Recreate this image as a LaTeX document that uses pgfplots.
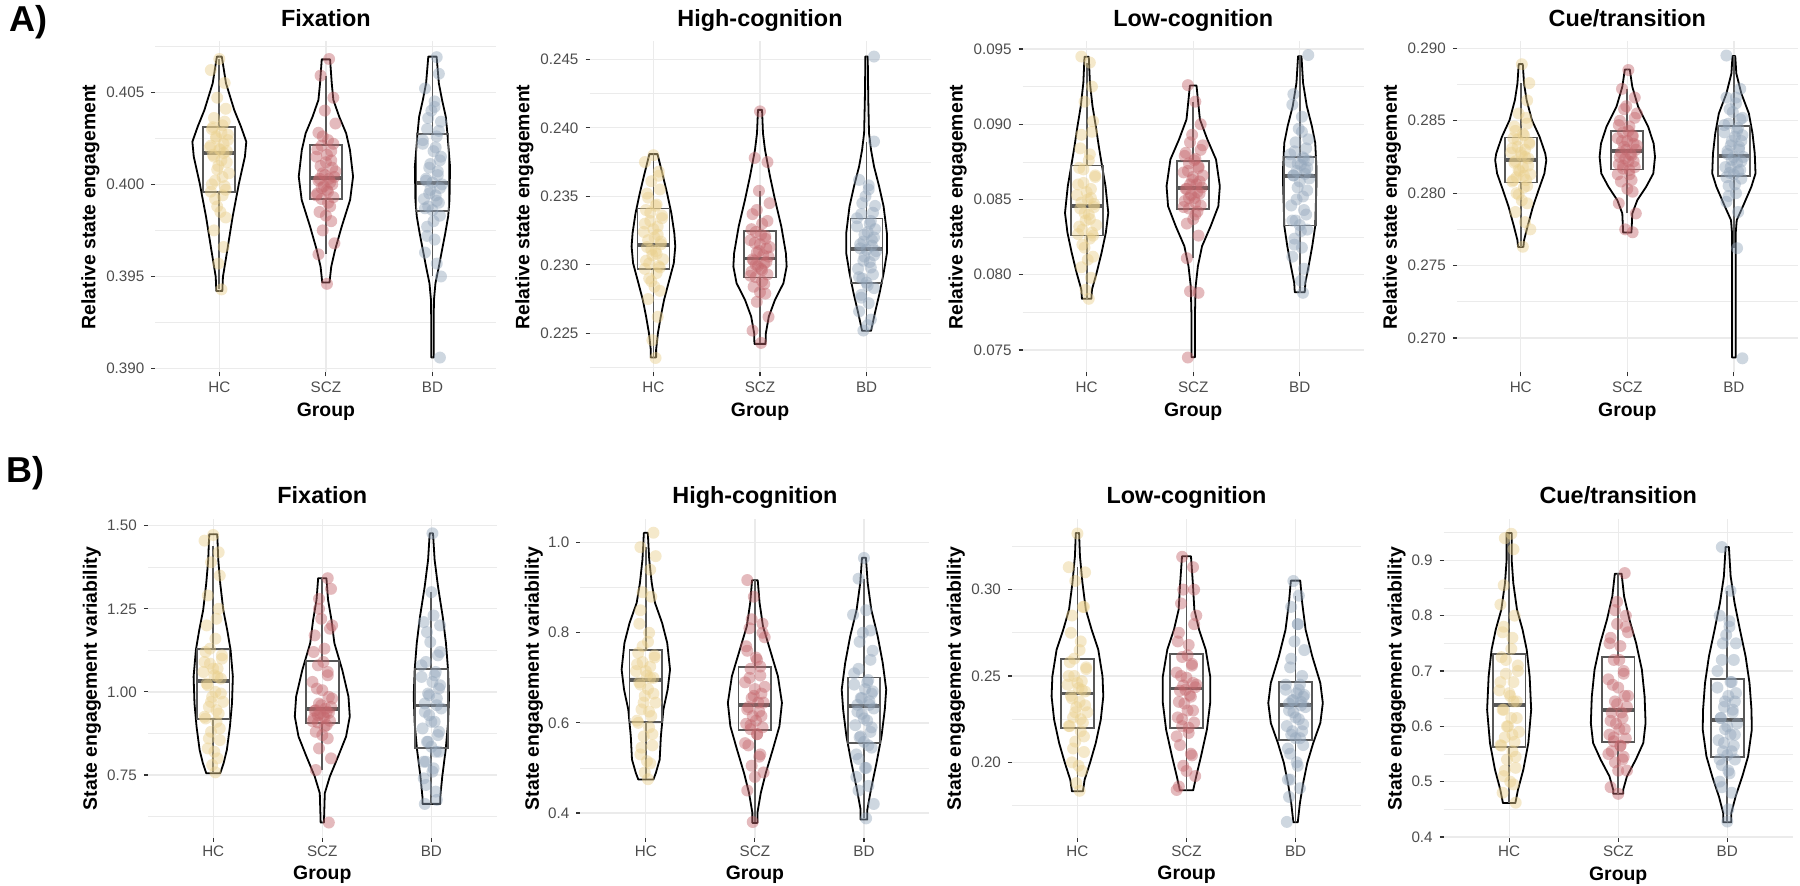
\documentclass[border=0pt]{standalone}
\usepackage{fontspec}
\setmainfont{Liberation Sans}
\usepackage{pgfplots}
\pgfplotsset{compat=1.18}

\definecolor{hcc}{HTML}{E9CF8C}
\definecolor{sczc}{HTML}{C4676D}
\definecolor{bdc}{HTML}{93A6BB}
\definecolor{gridc}{HTML}{EBEBEB}
\definecolor{boxc}{HTML}{575757}
\definecolor{tickc}{HTML}{333333}
\definecolor{labc}{HTML}{4D4D4D}

\pgfplotsset{
  panel/.style={
    scale only axis, anchor=north west,
    xmin=0.4, xmax=3.6,
    xtick={1,2,3}, xticklabels={HC,SCZ,BD},
    axis line style={draw=none},
    tick pos=left, tick align=outside,
    major tick length=2pt, minor tick length=0pt,
    tick style={tickc, line width=0.55pt},
    xmajorgrids, ymajorgrids, yminorgrids,
    major grid style={gridc, line width=0.65pt},
    minor grid style={gridc, line width=0.35pt},
    tick label style={font=\fontsize{7.6}{9}\selectfont, text=labc},
    yticklabel style={/pgf/number format/fixed, /pgf/number format/fixed zerofill},
    scaled y ticks=false,
    /pgf/number format/assume math mode=true,
    label style={font=\bfseries\fontsize{9.7}{11}\selectfont},
    title style={font=\bfseries\fontsize{11.7}{13}\selectfont,
      at={(axis description cs:0.5,1)}, anchor=base, yshift=1.5pt},
    xlabel={Group},
  },
  rowA/.style={width=170.5pt, height=165.5pt,
    ylabel={Relative state engagement},
    xticklabel style={anchor=base, yshift=-8pt},
    xlabel style={at={(axis description cs:0.5,0)}, anchor=base, yshift=-22pt},
    ylabel style={at={(axis description cs:-0.1906,0.5)}, anchor=center},
    yticklabel style={/pgf/number format/precision=3}},
  rowB/.style={width=174.5pt, height=159.5pt,
    ylabel={State engagement variability},
    xticklabel style={anchor=base, yshift=-7.15pt},
    xlabel style={at={(axis description cs:0.5,0)}, anchor=base, yshift=-21pt},
    ylabel style={anchor=center}},
  vline/.style={black, line width=0.9pt, line join=round, no markers},
  boxline/.style={boxc, line width=0.9pt, no markers, line join=miter},
}

% violin outline: rows "y w" (half width in x units), bottom to top
\newcommand\vio[2]{%
  \addplot[vline] table[row sep=\\, x expr=#1+\thisrow{w}, y=y] {#2};
  \addplot[vline] table[row sep=\\, x expr=#1-\thisrow{w}, y=y] {#2};
}
% jittered points: rows "d v"
\newcommand\pts[3]{%
  \addplot[only marks, mark=*, mark size=3pt,
    mark options={draw opacity=0, fill=#2, fill opacity=0.45}]
    table[row sep=\\, x expr=#1+\thisrow{d}, y=v] {#3};
}
% box: position, lower whisker, lower quartile, median, upper quartile, upper whisker
\newcommand\bx[6]{%
  \addplot[boxline] table[row sep=\\, x expr=#1+\thisrow{d}, y=y] {d y\\ 0 #2\\ 0 #3\\};
  \addplot[boxline] table[row sep=\\, x expr=#1+\thisrow{d}, y=y] {d y\\ 0 #5\\ 0 #6\\};
  \addplot[boxline] table[row sep=\\, x expr=#1+\thisrow{d}, y=y] {d y\\ -0.15 #3\\ 0.15 #3\\ 0.15 #5\\ -0.15 #5\\} --cycle;
  \addplot[boxline, line width=1.9pt] table[row sep=\\, x expr=#1+\thisrow{d}, y=y] {d y\\ -0.15 #4\\ 0.15 #4\\};
}

\begin{document}
\begin{tikzpicture}
\useasboundingbox (0,0) rectangle (900pt,-443pt);

\node[anchor=base east, inner sep=0, font=\bfseries\fontsize{18}{20}\selectfont] at (24pt,-16pt) {A)};
\node[anchor=base east, inner sep=0, font=\bfseries\fontsize{18}{20}\selectfont] at (22.3pt,-241.5pt) {B)};

%% ---------- A: Fixation
\begin{axis}[panel, rowA, at={(77.7pt,-20.75pt)}, title={Fixation},
  ymin=0.38979, ymax=0.40775, ytick={0.390,0.395,0.400,0.405},
  minor ytick={0.3925,0.3975,0.4025,0.4075}]
\pts{1}{hcc}{d v\\ 0.00 0.4068\\ -0.08 0.4062\\ 0.05 0.4055\\ -0.02 0.4047\\ 0.06 0.4041\\ -0.05 0.4036\\ 0.03 0.4032\\ -0.07 0.4030\\ 0.08 0.4027\\ -0.03 0.4025\\ 0.04 0.4022\\ -0.09 0.4020\\ 0.01 0.4019\\ 0.07 0.4018\\ -0.06 0.4016\\ 0.02 0.4013\\ -0.01 0.4010\\ 0.09 0.4006\\ -0.04 0.4002\\ 0.05 0.3999\\ -0.08 0.3996\\ 0.03 0.3994\\ -0.02 0.3988\\ 0.06 0.3982\\ -0.05 0.3975\\ 0.04 0.3966\\ -0.01 0.3957\\ 0.02 0.3943\\}
\pts{1}{hcc}{d v\\ 0.05 0.4034\\ -0.06 0.4031\\ 0.02 0.4028\\ -0.03 0.4026\\ 0.08 0.4024\\ -0.08 0.4021\\ 0.00 0.4019\\ 0.04 0.4017\\ -0.05 0.4015\\ 0.07 0.4012\\ -0.02 0.4008\\ 0.03 0.4004\\ -0.07 0.4000\\ 0.06 0.3997\\ -0.04 0.3992\\ 0.01 0.3985\\}
\pts{2}{sczc}{d v\\ 0.03 0.4068\\ -0.05 0.4059\\ 0.07 0.4047\\ -0.01 0.4040\\ 0.09 0.4033\\ -0.07 0.4028\\ 0.02 0.4024\\ -0.04 0.4021\\ 0.05 0.4018\\ -0.09 0.4015\\ 0.00 0.4012\\ 0.06 0.4009\\ -0.03 0.4006\\ 0.08 0.4004\\ -0.06 0.4003\\ 0.04 0.4001\\ -0.02 0.3999\\ 0.01 0.3997\\ -0.08 0.3995\\ 0.07 0.3993\\ -0.04 0.3992\\ 0.02 0.3990\\ -0.06 0.3985\\ 0.05 0.3980\\ -0.03 0.3975\\ 0.08 0.3968\\ -0.07 0.3962\\ 0.01 0.3946\\}
\pts{2}{sczc}{d v\\ -0.03 0.4026\\ 0.07 0.4022\\ -0.08 0.4019\\ 0.01 0.4016\\ 0.05 0.4013\\ -0.05 0.4010\\ 0.09 0.4007\\ -0.01 0.4005\\ 0.03 0.4003\\ -0.07 0.4002\\ 0.06 0.4000\\ -0.04 0.3998\\ 0.02 0.3996\\ -0.09 0.3994\\ 0.04 0.3988\\ 0.00 0.3983\\}
\pts{3}{bdc}{d v\\ 0.04 0.4069\\ 0.06 0.4060\\ -0.07 0.4052\\ 0.02 0.4045\\ -0.01 0.4040\\ 0.08 0.4034\\ -0.05 0.4030\\ 0.04 0.4026\\ -0.09 0.4022\\ 0.01 0.4018\\ 0.07 0.4013\\ -0.03 0.4009\\ 0.05 0.4005\\ -0.06 0.4002\\ 0.09 0.4000\\ -0.02 0.3997\\ 0.03 0.3994\\ -0.08 0.3992\\ 0.06 0.3990\\ -0.04 0.3988\\ 0.00 0.3986\\ 0.07 0.3983\\ -0.05 0.3977\\ 0.02 0.3970\\ -0.07 0.3963\\ 0.04 0.3957\\ 0.08 0.3950\\ 0.07 0.3906\\}
\pts{3}{bdc}{d v\\ 0.02 0.4042\\ -0.04 0.4036\\ 0.06 0.4029\\ -0.09 0.4024\\ 0.03 0.4020\\ 0.08 0.4015\\ -0.02 0.4011\\ 0.05 0.4007\\ -0.06 0.4003\\ 0.00 0.4001\\ 0.07 0.3998\\ -0.03 0.3995\\ 0.04 0.3991\\ -0.07 0.3987\\ 0.01 0.3980\\ -0.05 0.3972\\}
\vio{1}{y w\\ 0.39421 0\\ 0.39421 0.028\\ 0.39499 0.034\\ 0.39644 0.075\\ 0.39825 0.125\\ 0.40005 0.184\\ 0.40150 0.24\\ 0.40231 0.253\\ 0.40313 0.203\\ 0.40403 0.14\\ 0.40548 0.0625\\ 0.40693 0.023\\ 0.40693 0\\}
\vio{2}{y w\\ 0.39467 0\\ 0.39467 0.034\\ 0.39553 0.05\\ 0.39644 0.086\\ 0.39770 0.148\\ 0.39915 0.227\\ 0.40042 0.255\\ 0.40186 0.226\\ 0.40277 0.19\\ 0.40367 0.125\\ 0.40458 0.07\\ 0.40548 0.055\\ 0.40678 0.039\\ 0.40678 0\\}
\vio{3}{y w\\ 0.39061 0\\ 0.39061 0.012\\ 0.39282 0.012\\ 0.39373 0.014\\ 0.39463 0.028\\ 0.39553 0.06\\ 0.39644 0.09\\ 0.39734 0.12\\ 0.39825 0.147\\ 0.39915 0.16\\ 0.40096 0.165\\ 0.40277 0.14\\ 0.40367 0.125\\ 0.40458 0.09\\ 0.40548 0.06\\ 0.40693 0.039\\ 0.40693 0\\}
\bx{1}{0.3943}{0.39957}{0.40172}{0.40309}{0.4068}
\bx{2}{0.3962}{0.39919}{0.40033}{0.40212}{0.4059}
\bx{3}{0.3950}{0.39857}{0.40005}{0.40271}{0.4069}
\end{axis}

%% ---------- A: High-cognition
\begin{axis}[panel, rowA, at={(294.75pt,-20.75pt)}, title={High-cognition},
  ymin=0.22214, ymax=0.2463, ytick={0.225,0.230,0.235,0.240,0.245},
  minor ytick={0.2225,0.2275,0.2325,0.2375,0.2425}]
\pts{1}{hcc}{d v\\ 0.00 0.2380\\ -0.08 0.2375\\ 0.05 0.2368\\ -0.02 0.2361\\ 0.06 0.2355\\ -0.05 0.2349\\ 0.03 0.2344\\ -0.07 0.2340\\ 0.08 0.2336\\ -0.03 0.2332\\ 0.04 0.2328\\ -0.09 0.2324\\ 0.01 0.2320\\ 0.07 0.2317\\ -0.06 0.2313\\ 0.02 0.2310\\ -0.01 0.2307\\ 0.09 0.2304\\ -0.04 0.2301\\ 0.05 0.2299\\ -0.08 0.2297\\ 0.03 0.2294\\ -0.02 0.2288\\ 0.06 0.2281\\ -0.05 0.2275\\ 0.04 0.2262\\ -0.01 0.2245\\ 0.02 0.2232\\}
\pts{1}{hcc}{d v\\ 0.05 0.2365\\ -0.06 0.2352\\ 0.02 0.2343\\ -0.03 0.2338\\ 0.08 0.2334\\ -0.08 0.2330\\ 0.00 0.2326\\ 0.04 0.2322\\ -0.05 0.2318\\ 0.07 0.2315\\ -0.02 0.2311\\ 0.03 0.2308\\ -0.07 0.2303\\ 0.06 0.2298\\ -0.04 0.2290\\ 0.01 0.2284\\}
\pts{2}{sczc}{d v\\ 0.00 0.2412\\ -0.05 0.2378\\ 0.07 0.2375\\ -0.01 0.2354\\ 0.09 0.2345\\ -0.07 0.2337\\ 0.02 0.2330\\ -0.04 0.2324\\ 0.05 0.2321\\ -0.09 0.2318\\ 0.00 0.2315\\ 0.06 0.2312\\ -0.03 0.2309\\ 0.08 0.2306\\ -0.06 0.2303\\ 0.04 0.2301\\ -0.02 0.2299\\ 0.01 0.2297\\ -0.08 0.2295\\ 0.07 0.2293\\ -0.04 0.2291\\ 0.02 0.2288\\ -0.06 0.2284\\ 0.05 0.2279\\ -0.03 0.2273\\ 0.08 0.2262\\ -0.07 0.2252\\ 0.01 0.2243\\}
\pts{2}{sczc}{d v\\ -0.03 0.2340\\ 0.07 0.2332\\ -0.08 0.2326\\ 0.01 0.2322\\ 0.05 0.2319\\ -0.05 0.2316\\ 0.09 0.2313\\ -0.01 0.2310\\ 0.03 0.2307\\ -0.07 0.2304\\ 0.06 0.2302\\ -0.04 0.2300\\ 0.02 0.2296\\ -0.09 0.2292\\ 0.04 0.2286\\ 0.00 0.2280\\}
\pts{3}{bdc}{d v\\ 0.07 0.2452\\ 0.07 0.2390\\ -0.07 0.2362\\ 0.02 0.2358\\ -0.01 0.2350\\ 0.08 0.2343\\ -0.05 0.2337\\ 0.04 0.2332\\ -0.09 0.2328\\ 0.01 0.2324\\ 0.07 0.2320\\ -0.03 0.2317\\ 0.05 0.2314\\ -0.06 0.2312\\ 0.09 0.2310\\ -0.02 0.2306\\ 0.03 0.2302\\ -0.08 0.2297\\ 0.06 0.2293\\ -0.04 0.2290\\ 0.00 0.2287\\ 0.07 0.2283\\ -0.05 0.2278\\ 0.02 0.2272\\ -0.07 0.2266\\ 0.04 0.2260\\ 0.01 0.2256\\ -0.03 0.2252\\}
\pts{3}{bdc}{d v\\ 0.02 0.2355\\ -0.04 0.2345\\ 0.06 0.2338\\ -0.09 0.2334\\ 0.03 0.2330\\ 0.08 0.2326\\ -0.02 0.2322\\ 0.05 0.2318\\ -0.06 0.2315\\ 0.00 0.2311\\ 0.07 0.2307\\ -0.03 0.2303\\ 0.04 0.2298\\ -0.07 0.2291\\ 0.01 0.2285\\ -0.05 0.2276\\}
\vio{1}{y w\\ 0.22324 0\\ 0.22324 0.025\\ 0.22380 0.025\\ 0.22501 0.042\\ 0.22623 0.069\\ 0.22745 0.1\\ 0.22866 0.141\\ 0.23012 0.191\\ 0.23134 0.205\\ 0.23231 0.196\\ 0.23377 0.168\\ 0.23523 0.128\\ 0.23669 0.083\\ 0.23808 0.038\\ 0.23808 0\\}
\vio{2}{y w\\ 0.22423 0\\ 0.22423 0.052\\ 0.22501 0.055\\ 0.22623 0.083\\ 0.22745 0.141\\ 0.22866 0.22\\ 0.22988 0.25\\ 0.23085 0.243\\ 0.23280 0.2\\ 0.23474 0.141\\ 0.23645 0.094\\ 0.23839 0.047\\ 0.23961 0.028\\ 0.24131 0.019\\ 0.24131 0\\}
\vio{3}{y w\\ 0.22518 0\\ 0.22518 0.042\\ 0.22647 0.078\\ 0.22793 0.122\\ 0.22939 0.16\\ 0.23085 0.191\\ 0.23231 0.191\\ 0.23426 0.16\\ 0.23572 0.118\\ 0.23718 0.07\\ 0.23839 0.042\\ 0.23961 0.023\\ 0.24204 0.016\\ 0.24521 0.011\\ 0.24521 0\\}
\bx{1}{0.2232}{0.22968}{0.23146}{0.23411}{0.2380}
\bx{2}{0.2243}{0.22908}{0.23046}{0.23246}{0.2354}
\bx{3}{0.2252}{0.22866}{0.23114}{0.23338}{0.2390}
\end{axis}

%% ---------- A: Low-cognition
\begin{axis}[panel, rowA, at={(511.35pt,-20.75pt)}, title={Low-cognition},
  ymin=0.073505, ymax=0.0955, ytick={0.075,0.080,0.085,0.090,0.095},
  minor ytick={0.0775,0.0825,0.0875,0.0925}]
\pts{1}{hcc}{d v\\ -0.05 0.0945\\ 0.03 0.0941\\ 0.05 0.0925\\ -0.02 0.0915\\ 0.06 0.0902\\ -0.05 0.0893\\ 0.03 0.0880\\ -0.07 0.0871\\ 0.08 0.0866\\ -0.03 0.0861\\ 0.04 0.0857\\ -0.09 0.0853\\ 0.01 0.0850\\ 0.07 0.0847\\ -0.06 0.0844\\ 0.02 0.0840\\ -0.01 0.0836\\ 0.09 0.0833\\ -0.04 0.0830\\ 0.05 0.0828\\ -0.08 0.0827\\ 0.03 0.0824\\ -0.02 0.0818\\ 0.06 0.0812\\ -0.05 0.0805\\ 0.04 0.0798\\ -0.01 0.0790\\ 0.02 0.0784\\}
\pts{1}{hcc}{d v\\ 0.05 0.0895\\ -0.06 0.0884\\ 0.02 0.0876\\ -0.03 0.0870\\ 0.08 0.0865\\ -0.08 0.0860\\ 0.00 0.0855\\ 0.04 0.0851\\ -0.05 0.0848\\ 0.07 0.0845\\ -0.02 0.0841\\ 0.03 0.0837\\ -0.07 0.0832\\ 0.06 0.0826\\ -0.04 0.0820\\ 0.01 0.0810\\}
\pts{2}{sczc}{d v\\ -0.05 0.0926\\ 0.02 0.0915\\ 0.07 0.0900\\ -0.01 0.0893\\ 0.09 0.0886\\ -0.07 0.0881\\ 0.02 0.0877\\ -0.04 0.0874\\ 0.05 0.0871\\ -0.09 0.0868\\ 0.00 0.0865\\ 0.06 0.0862\\ -0.03 0.0860\\ 0.08 0.0858\\ -0.06 0.0857\\ 0.04 0.0855\\ -0.02 0.0853\\ 0.01 0.0851\\ -0.08 0.0849\\ 0.07 0.0846\\ -0.04 0.0844\\ 0.02 0.0840\\ -0.06 0.0834\\ 0.05 0.0826\\ -0.06 0.0811\\ -0.03 0.0789\\ 0.05 0.0788\\ -0.05 0.0745\\}
\pts{2}{sczc}{d v\\ -0.03 0.0888\\ 0.07 0.0883\\ -0.08 0.0879\\ 0.01 0.0876\\ 0.05 0.0872\\ -0.05 0.0869\\ 0.09 0.0866\\ -0.01 0.0863\\ 0.03 0.0860\\ -0.07 0.0857\\ 0.06 0.0854\\ -0.04 0.0851\\ 0.02 0.0848\\ -0.09 0.0845\\ 0.04 0.0842\\ 0.00 0.0837\\}
\pts{3}{bdc}{d v\\ 0.08 0.0946\\ -0.06 0.0920\\ -0.07 0.0913\\ 0.02 0.0905\\ -0.01 0.0897\\ 0.08 0.0890\\ -0.05 0.0882\\ 0.04 0.0877\\ -0.09 0.0875\\ 0.01 0.0873\\ 0.07 0.0871\\ -0.03 0.0869\\ 0.05 0.0867\\ -0.06 0.0866\\ 0.09 0.0864\\ -0.02 0.0858\\ 0.03 0.0852\\ -0.08 0.0846\\ 0.06 0.0840\\ -0.04 0.0836\\ 0.00 0.0833\\ 0.07 0.0830\\ -0.05 0.0824\\ 0.02 0.0818\\ -0.07 0.0812\\ 0.04 0.0804\\ 0.01 0.0796\\ 0.03 0.0788\\}
\pts{3}{bdc}{d v\\ 0.02 0.0895\\ -0.04 0.0888\\ 0.06 0.0884\\ -0.09 0.0880\\ 0.03 0.0878\\ 0.08 0.0876\\ -0.02 0.0874\\ 0.05 0.0870\\ -0.06 0.0866\\ 0.00 0.0862\\ 0.07 0.0856\\ -0.03 0.0850\\ 0.04 0.0843\\ -0.07 0.0836\\ 0.01 0.0829\\ -0.05 0.0820\\}
\vio{1}{y w\\ 0.07840 0\\ 0.07840 0.044\\ 0.07902 0.05\\ 0.08013 0.094\\ 0.08146 0.14\\ 0.08279 0.18\\ 0.08411 0.203\\ 0.08589 0.177\\ 0.08721 0.145\\ 0.08854 0.114\\ 0.08987 0.086\\ 0.09120 0.055\\ 0.09275 0.031\\ 0.09448 0.02\\ 0.09448 0\\}
\vio{2}{y w\\ 0.07452 0\\ 0.07452 0.016\\ 0.07725 0.016\\ 0.07924 0.023\\ 0.08057 0.044\\ 0.08190 0.083\\ 0.08323 0.164\\ 0.08456 0.236\\ 0.08589 0.25\\ 0.08766 0.214\\ 0.08899 0.133\\ 0.09032 0.063\\ 0.09164 0.044\\ 0.09257 0.031\\ 0.09257 0\\}
\vio{3}{y w\\ 0.07884 0\\ 0.07884 0.047\\ 0.07946 0.052\\ 0.08057 0.083\\ 0.08190 0.117\\ 0.08323 0.145\\ 0.08589 0.156\\ 0.08721 0.156\\ 0.08877 0.145\\ 0.08987 0.114\\ 0.09120 0.066\\ 0.09275 0.031\\ 0.09452 0.016\\ 0.09452 0\\}
\bx{1}{0.0784}{0.08261}{0.08456}{0.08726}{0.0941}
\bx{2}{0.0811}{0.08438}{0.08578}{0.08757}{0.0915}
\bx{3}{0.0788}{0.08327}{0.08655}{0.08783}{0.0946}
\end{axis}

%% ---------- A: Cue/transition
\begin{axis}[panel, rowA, at={(728.4pt,-20.75pt)}, title={Cue/transition},
  ymin=0.26762, ymax=0.29047, ytick={0.270,0.275,0.280,0.285,0.290},
  minor ytick={0.2725,0.2775,0.2825,0.2875}]
\pts{1}{hcc}{d v\\ 0.01 0.2889\\ 0.08 0.2876\\ 0.06 0.2864\\ -0.02 0.2855\\ 0.06 0.2848\\ -0.05 0.2843\\ 0.03 0.2840\\ -0.07 0.2838\\ 0.08 0.2835\\ -0.03 0.2832\\ 0.04 0.2830\\ -0.09 0.2828\\ 0.01 0.2826\\ 0.07 0.2824\\ -0.06 0.2821\\ 0.02 0.2818\\ -0.01 0.2815\\ 0.09 0.2813\\ -0.04 0.2811\\ 0.05 0.2809\\ -0.08 0.2808\\ 0.03 0.2804\\ -0.02 0.2799\\ 0.06 0.2793\\ -0.05 0.2787\\ 0.04 0.2780\\ 0.09 0.2775\\ 0.02 0.2763\\}
\pts{1}{hcc}{d v\\ 0.05 0.2852\\ -0.06 0.2846\\ 0.02 0.2841\\ -0.03 0.2837\\ 0.08 0.2834\\ -0.08 0.2831\\ 0.00 0.2828\\ 0.04 0.2825\\ -0.05 0.2822\\ 0.07 0.2819\\ -0.02 0.2816\\ 0.03 0.2812\\ -0.07 0.2809\\ 0.06 0.2805\\ -0.04 0.2800\\ 0.01 0.2795\\}
\pts{2}{sczc}{d v\\ 0.01 0.2885\\ -0.05 0.2872\\ 0.07 0.2866\\ -0.01 0.2860\\ 0.09 0.2855\\ -0.07 0.2850\\ 0.02 0.2846\\ -0.04 0.2842\\ 0.05 0.2840\\ -0.09 0.2838\\ 0.00 0.2836\\ 0.06 0.2834\\ -0.03 0.2832\\ 0.08 0.2830\\ -0.06 0.2828\\ 0.04 0.2826\\ -0.02 0.2824\\ 0.01 0.2822\\ -0.08 0.2820\\ 0.07 0.2818\\ -0.04 0.2817\\ 0.02 0.2813\\ -0.06 0.2808\\ 0.05 0.2801\\ -0.08 0.2793\\ 0.08 0.2786\\ -0.02 0.2775\\ 0.05 0.2773\\}
\pts{2}{sczc}{d v\\ -0.03 0.2858\\ 0.07 0.2852\\ -0.08 0.2847\\ 0.01 0.2843\\ 0.05 0.2839\\ -0.05 0.2836\\ 0.09 0.2833\\ -0.01 0.2830\\ 0.03 0.2827\\ -0.07 0.2825\\ 0.06 0.2822\\ -0.04 0.2819\\ 0.02 0.2816\\ -0.09 0.2813\\ 0.04 0.2809\\ 0.00 0.2803\\}
\pts{3}{bdc}{d v\\ -0.07 0.2895\\ 0.06 0.2872\\ -0.07 0.2866\\ 0.02 0.2862\\ -0.01 0.2856\\ 0.08 0.2852\\ -0.05 0.2848\\ 0.04 0.2845\\ -0.09 0.2842\\ 0.01 0.2839\\ 0.07 0.2836\\ -0.03 0.2833\\ 0.05 0.2830\\ -0.06 0.2827\\ 0.09 0.2825\\ -0.02 0.2823\\ 0.03 0.2821\\ -0.08 0.2818\\ 0.06 0.2816\\ -0.04 0.2814\\ 0.00 0.2813\\ 0.07 0.2810\\ -0.05 0.2805\\ 0.02 0.2800\\ -0.07 0.2794\\ 0.04 0.2787\\ 0.03 0.2762\\ 0.08 0.2686\\}
\pts{3}{bdc}{d v\\ 0.02 0.2866\\ -0.04 0.2858\\ 0.06 0.2851\\ -0.09 0.2847\\ 0.03 0.2843\\ 0.08 0.2840\\ -0.02 0.2836\\ 0.05 0.2832\\ -0.06 0.2829\\ 0.00 0.2825\\ 0.07 0.2822\\ -0.03 0.2818\\ 0.04 0.2815\\ -0.07 0.2811\\ 0.01 0.2806\\ -0.05 0.2798\\}
\vio{1}{y w\\ 0.27629 0\\ 0.27629 0.025\\ 0.27675 0.031\\ 0.27768 0.063\\ 0.27906 0.114\\ 0.28021 0.167\\ 0.28136 0.222\\ 0.28228 0.24\\ 0.28274 0.23\\ 0.28389 0.177\\ 0.28504 0.105\\ 0.28642 0.055\\ 0.28757 0.031\\ 0.28891 0.019\\ 0.28891 0\\}
\vio{2}{y w\\ 0.27728 0\\ 0.27728 0.039\\ 0.27860 0.047\\ 0.27952 0.094\\ 0.28044 0.177\\ 0.28136 0.244\\ 0.28251 0.26\\ 0.28343 0.247\\ 0.28458 0.196\\ 0.28596 0.102\\ 0.28734 0.047\\ 0.28854 0.023\\ 0.28854 0\\}
\vio{3}{y w\\ 0.26865 0\\ 0.26865 0.017\\ 0.27722 0.017\\ 0.27814 0.027\\ 0.27906 0.083\\ 0.28044 0.164\\ 0.28136 0.203\\ 0.28274 0.196\\ 0.28412 0.175\\ 0.28550 0.141\\ 0.28688 0.07\\ 0.28826 0.023\\ 0.28946 0.013\\ 0.28946 0\\}
\bx{1}{0.2763}{0.28074}{0.28228}{0.28384}{0.2876}
\bx{2}{0.2786}{0.28163}{0.28292}{0.28428}{0.2872}
\bx{3}{0.2762}{0.28120}{0.28255}{0.28463}{0.2895}
\end{axis}

%% ---------- B: Fixation
\begin{axis}[panel, rowB, at={(73.9pt,-259.5pt)}, title={Fixation},
  ymin=0.5605, ymax=1.5201, ytick={0.75,1.00,1.25,1.50},
  minor ytick={0.625,0.875,1.125,1.375},
  yticklabel style={/pgf/number format/precision=2},
  ylabel style={at={(axis description cs:-0.1605,0.5)}}]
\pts{1}{hcc}{d v\\ 0.00 1.472\\ -0.08 1.455\\ 0.05 1.420\\ -0.02 1.390\\ 0.06 1.350\\ -0.05 1.290\\ 0.03 1.220\\ -0.07 1.120\\ 0.08 1.100\\ -0.03 1.085\\ 0.04 1.070\\ -0.09 1.060\\ 0.01 1.050\\ 0.07 1.040\\ -0.06 1.025\\ 0.02 1.000\\ -0.01 0.985\\ 0.09 0.970\\ -0.04 0.955\\ 0.05 0.935\\ -0.08 0.925\\ 0.03 0.910\\ -0.02 0.880\\ 0.06 0.855\\ -0.05 0.830\\ 0.04 0.800\\ -0.01 0.780\\ 0.02 0.758\\}
\pts{1}{hcc}{d v\\ 0.05 1.250\\ -0.06 1.200\\ 0.02 1.160\\ -0.03 1.130\\ 0.08 1.110\\ -0.08 1.090\\ 0.00 1.070\\ 0.04 1.045\\ -0.05 1.020\\ 0.07 0.995\\ -0.02 0.970\\ 0.03 0.945\\ -0.07 0.920\\ 0.06 0.890\\ -0.04 0.860\\ 0.01 0.820\\}
\pts{2}{sczc}{d v\\ 0.05 1.342\\ 0.08 1.310\\ -0.03 1.280\\ -0.01 1.220\\ 0.09 1.200\\ -0.07 1.170\\ 0.02 1.130\\ -0.04 1.080\\ 0.05 1.060\\ -0.09 1.030\\ 0.00 1.005\\ 0.06 0.985\\ -0.03 0.965\\ 0.08 0.955\\ -0.06 0.945\\ 0.04 0.940\\ -0.02 0.935\\ 0.01 0.928\\ -0.08 0.920\\ 0.07 0.913\\ -0.04 0.908\\ 0.02 0.895\\ -0.06 0.880\\ 0.05 0.860\\ -0.03 0.830\\ 0.08 0.800\\ -0.06 0.765\\ 0.06 0.607\\}
\pts{2}{sczc}{d v\\ -0.03 1.250\\ 0.07 1.190\\ -0.08 1.120\\ 0.01 1.090\\ 0.05 1.050\\ -0.05 1.010\\ 0.09 0.980\\ -0.01 0.960\\ 0.03 0.950\\ -0.07 0.943\\ 0.06 0.937\\ -0.04 0.930\\ 0.02 0.922\\ -0.09 0.912\\ 0.04 0.900\\ 0.00 0.870\\}
\pts{3}{bdc}{d v\\ 0.01 1.477\\ 0.00 1.300\\ -0.07 1.210\\ 0.08 1.200\\ -0.01 1.150\\ 0.08 1.120\\ -0.05 1.090\\ 0.04 1.060\\ -0.09 1.045\\ 0.01 1.030\\ 0.07 1.010\\ -0.03 0.995\\ 0.05 0.980\\ -0.06 0.965\\ 0.09 0.950\\ -0.02 0.930\\ 0.03 0.910\\ -0.08 0.890\\ 0.06 0.870\\ -0.04 0.850\\ 0.00 0.835\\ 0.07 0.820\\ -0.05 0.790\\ 0.02 0.770\\ -0.07 0.740\\ 0.04 0.700\\ 0.05 0.675\\ -0.06 0.663\\}
\pts{3}{bdc}{d v\\ 0.02 1.230\\ -0.04 1.180\\ 0.06 1.110\\ -0.09 1.080\\ 0.03 1.050\\ 0.08 1.020\\ -0.02 0.990\\ 0.05 0.960\\ -0.06 0.940\\ 0.00 0.910\\ 0.07 0.880\\ -0.03 0.850\\ 0.04 0.820\\ -0.07 0.790\\ 0.01 0.760\\ -0.05 0.720\\}
\vio{1}{y w\\ 0.7553 0\\ 0.7553 0.064\\ 0.7854 0.095\\ 0.8255 0.125\\ 0.8957 0.153\\ 0.9659 0.172\\ 1.0461 0.18\\ 1.1263 0.159\\ 1.1865 0.128\\ 1.2467 0.092\\ 1.3269 0.064\\ 1.3971 0.046\\ 1.4743 0.037\\ 1.4743 0\\}
\vio{2}{y w\\ 0.6070 0\\ 0.6070 0.015\\ 0.6952 0.023\\ 0.7453 0.069\\ 0.8055 0.145\\ 0.8656 0.218\\ 0.9258 0.252\\ 0.9860 0.24\\ 1.0662 0.183\\ 1.1464 0.111\\ 1.2166 0.084\\ 1.2767 0.053\\ 1.3419 0.038\\ 1.3419 0\\}
\vio{3}{y w\\ 0.6631 0\\ 0.6631 0.082\\ 0.6852 0.082\\ 0.7453 0.1\\ 0.8255 0.131\\ 0.9057 0.153\\ 0.9860 0.162\\ 1.0662 0.153\\ 1.1464 0.134\\ 1.2266 0.104\\ 1.3169 0.061\\ 1.3971 0.03\\ 1.4773 0.015\\ 1.4773 0\\}
\bx{1}{0.758}{0.918}{1.032}{1.128}{1.440}
\bx{2}{0.765}{0.906}{0.949}{1.094}{1.342}
\bx{3}{0.663}{0.831}{0.959}{1.068}{1.300}
\end{axis}

%% ---------- B: High-cognition
\begin{axis}[panel, rowB, at={(290.2pt,-259.5pt)}, title={High-cognition},
  ymin=0.3445, ymax=1.0525, ytick={0.4,0.6,0.8,1.0},
  minor ytick={0.5,0.7,0.9},
  yticklabel style={/pgf/number format/precision=1},
  ylabel style={at={(axis description cs:-0.133,0.5)}}]
\pts{1}{hcc}{d v\\ 0.07 1.022\\ -0.05 0.990\\ 0.09 0.970\\ 0.04 0.940\\ -0.03 0.890\\ -0.05 0.850\\ 0.03 0.800\\ -0.07 0.755\\ 0.08 0.745\\ -0.03 0.735\\ 0.04 0.725\\ -0.09 0.715\\ 0.01 0.705\\ 0.07 0.700\\ -0.06 0.690\\ 0.02 0.675\\ -0.01 0.660\\ 0.09 0.645\\ -0.04 0.630\\ 0.05 0.615\\ -0.08 0.605\\ 0.03 0.590\\ -0.02 0.570\\ 0.06 0.550\\ -0.05 0.530\\ 0.04 0.510\\ -0.01 0.490\\ 0.02 0.475\\}
\pts{1}{hcc}{d v\\ 0.05 0.880\\ -0.06 0.820\\ 0.02 0.780\\ -0.03 0.770\\ 0.08 0.750\\ -0.08 0.730\\ 0.00 0.715\\ 0.04 0.700\\ -0.05 0.685\\ 0.07 0.665\\ -0.02 0.645\\ 0.03 0.625\\ -0.07 0.600\\ 0.06 0.575\\ -0.04 0.545\\ 0.01 0.515\\}
\pts{2}{sczc}{d v\\ -0.07 0.917\\ -0.01 0.880\\ 0.07 0.820\\ -0.05 0.810\\ 0.09 0.790\\ -0.07 0.760\\ 0.02 0.740\\ -0.04 0.720\\ 0.05 0.705\\ -0.09 0.690\\ 0.00 0.675\\ 0.06 0.665\\ -0.03 0.655\\ 0.08 0.645\\ -0.06 0.635\\ 0.04 0.625\\ -0.02 0.615\\ 0.01 0.605\\ -0.08 0.598\\ 0.07 0.590\\ -0.04 0.586\\ 0.02 0.575\\ -0.06 0.550\\ 0.05 0.530\\ -0.03 0.505\\ 0.08 0.490\\ -0.07 0.450\\ -0.02 0.380\\}
\pts{2}{sczc}{d v\\ -0.03 0.830\\ 0.07 0.800\\ -0.08 0.770\\ 0.01 0.745\\ 0.05 0.725\\ -0.05 0.700\\ 0.09 0.680\\ -0.01 0.660\\ 0.03 0.645\\ -0.07 0.630\\ 0.06 0.615\\ -0.04 0.595\\ 0.02 0.575\\ -0.09 0.555\\ 0.04 0.525\\ 0.00 0.480\\}
\pts{3}{bdc}{d v\\ 0.00 0.966\\ -0.05 0.920\\ -0.10 0.840\\ 0.06 0.805\\ -0.01 0.800\\ 0.08 0.760\\ -0.05 0.720\\ 0.04 0.695\\ -0.09 0.685\\ 0.01 0.675\\ 0.07 0.665\\ -0.03 0.655\\ 0.05 0.648\\ -0.06 0.640\\ 0.09 0.632\\ -0.02 0.620\\ 0.03 0.605\\ -0.08 0.595\\ 0.06 0.580\\ -0.04 0.568\\ 0.00 0.558\\ 0.07 0.545\\ -0.05 0.520\\ 0.02 0.500\\ -0.07 0.480\\ 0.04 0.460\\ 0.09 0.420\\ 0.02 0.388\\}
\pts{3}{bdc}{d v\\ 0.02 0.850\\ -0.04 0.780\\ 0.06 0.740\\ -0.09 0.710\\ 0.03 0.690\\ 0.08 0.670\\ -0.02 0.655\\ 0.05 0.640\\ -0.06 0.625\\ 0.00 0.610\\ 0.07 0.590\\ -0.03 0.570\\ 0.04 0.550\\ -0.07 0.530\\ 0.01 0.500\\ -0.05 0.450\\}
\vio{1}{y w\\ 0.4742 0\\ 0.4742 0.069\\ 0.4890 0.092\\ 0.5186 0.127\\ 0.5704 0.138\\ 0.6296 0.161\\ 0.6740 0.2\\ 0.7184 0.222\\ 0.7776 0.196\\ 0.8220 0.149\\ 0.8664 0.084\\ 0.9108 0.054\\ 0.9626 0.031\\ 1.0218 0.018\\ 1.0218 0\\}
\vio{2}{y w\\ 0.3780 0\\ 0.3780 0.023\\ 0.4002 0.023\\ 0.4446 0.054\\ 0.4890 0.1\\ 0.5408 0.164\\ 0.5926 0.225\\ 0.6444 0.248\\ 0.7036 0.211\\ 0.7628 0.138\\ 0.8146 0.074\\ 0.8664 0.043\\ 0.9167 0.026\\ 0.9167 0\\}
\vio{3}{y w\\ 0.3854 0\\ 0.3854 0.031\\ 0.4076 0.031\\ 0.4520 0.064\\ 0.5112 0.115\\ 0.5704 0.161\\ 0.6296 0.191\\ 0.6740 0.204\\ 0.7332 0.172\\ 0.7924 0.126\\ 0.8516 0.067\\ 0.9108 0.034\\ 0.9663 0.018\\ 0.9663 0\\}
\bx{1}{0.475}{0.6015}{0.695}{0.761}{0.990}
\bx{2}{0.380}{0.584}{0.640}{0.724}{0.917}
\bx{3}{0.388}{0.5556}{0.637}{0.7006}{0.920}
\end{axis}

%% ---------- B: Low-cognition
\begin{axis}[panel, rowB, at={(506pt,-259.5pt)}, title={Low-cognition},
  ymin=0.15618, ymax=0.3409, ytick={0.20,0.25,0.30},
  minor ytick={0.175,0.225,0.275,0.325},
  yticklabel style={/pgf/number format/precision=2},
  ylabel style={at={(axis description cs:-0.1605,0.5)}}]
\pts{1}{hcc}{d v\\ 0.00 0.3325\\ -0.08 0.3130\\ 0.07 0.3100\\ -0.02 0.3050\\ 0.06 0.2900\\ -0.05 0.2850\\ 0.03 0.2700\\ -0.07 0.2580\\ 0.08 0.2540\\ -0.03 0.2500\\ 0.04 0.2470\\ -0.09 0.2450\\ 0.01 0.2430\\ 0.07 0.2410\\ -0.06 0.2385\\ 0.02 0.2350\\ -0.01 0.2320\\ 0.09 0.2290\\ -0.04 0.2260\\ 0.05 0.2230\\ -0.08 0.2210\\ 0.03 0.2180\\ -0.02 0.2120\\ 0.06 0.2060\\ -0.05 0.2000\\ 0.04 0.1950\\ -0.01 0.1880\\ 0.02 0.1835\\}
\pts{1}{hcc}{d v\\ 0.05 0.2900\\ -0.06 0.2750\\ 0.02 0.2650\\ -0.03 0.2600\\ 0.08 0.2550\\ -0.08 0.2500\\ 0.00 0.2460\\ 0.04 0.2420\\ -0.05 0.2370\\ 0.07 0.2330\\ -0.02 0.2290\\ 0.03 0.2250\\ -0.07 0.2210\\ 0.06 0.2150\\ -0.04 0.2080\\ 0.01 0.1980\\}
\pts{2}{sczc}{d v\\ -0.04 0.3190\\ 0.06 0.3130\\ 0.07 0.3000\\ -0.05 0.2920\\ 0.09 0.2850\\ -0.07 0.2750\\ 0.02 0.2680\\ -0.04 0.2610\\ 0.05 0.2560\\ -0.09 0.2520\\ 0.00 0.2490\\ 0.06 0.2460\\ -0.03 0.2445\\ 0.08 0.2435\\ -0.06 0.2415\\ 0.04 0.2380\\ -0.02 0.2340\\ 0.01 0.2300\\ -0.08 0.2260\\ 0.07 0.2230\\ -0.04 0.2210\\ 0.02 0.2170\\ -0.06 0.2100\\ 0.05 0.2040\\ -0.03 0.1980\\ 0.08 0.1920\\ -0.07 0.1860\\ -0.09 0.1840\\}
\pts{2}{sczc}{d v\\ -0.03 0.3000\\ 0.07 0.2800\\ -0.08 0.2700\\ 0.01 0.2620\\ 0.05 0.2570\\ -0.05 0.2500\\ 0.09 0.2450\\ -0.01 0.2420\\ 0.03 0.2390\\ -0.07 0.2350\\ 0.06 0.2300\\ -0.04 0.2250\\ 0.02 0.2200\\ -0.09 0.2150\\ 0.04 0.2050\\ 0.00 0.1950\\}
\pts{3}{bdc}{d v\\ -0.02 0.3050\\ 0.03 0.2965\\ -0.04 0.2900\\ 0.02 0.2800\\ -0.01 0.2700\\ 0.08 0.2650\\ -0.05 0.2550\\ 0.04 0.2450\\ -0.09 0.2420\\ 0.01 0.2400\\ 0.07 0.2380\\ -0.03 0.2360\\ 0.05 0.2350\\ -0.06 0.2340\\ 0.09 0.2320\\ -0.02 0.2290\\ 0.03 0.2250\\ -0.08 0.2210\\ 0.06 0.2180\\ -0.04 0.2160\\ 0.00 0.2140\\ 0.07 0.2100\\ -0.05 0.2050\\ 0.02 0.1980\\ -0.07 0.1900\\ 0.04 0.1850\\ -0.06 0.1800\\ -0.08 0.1655\\}
\pts{3}{bdc}{d v\\ 0.02 0.2800\\ -0.04 0.2600\\ 0.06 0.2500\\ -0.09 0.2450\\ 0.03 0.2420\\ 0.08 0.2390\\ -0.02 0.2360\\ 0.05 0.2330\\ -0.06 0.2300\\ 0.00 0.2260\\ 0.07 0.2220\\ -0.03 0.2180\\ 0.04 0.2140\\ -0.07 0.2080\\ 0.01 0.2000\\ -0.05 0.1900\\}
\vio{1}{y w\\ 0.18320 0\\ 0.18320 0.05\\ 0.18996 0.066\\ 0.19961 0.115\\ 0.21120 0.168\\ 0.22471 0.214\\ 0.23822 0.237\\ 0.24981 0.23\\ 0.26525 0.191\\ 0.27683 0.13\\ 0.28842 0.077\\ 0.30386 0.046\\ 0.31931 0.023\\ 0.33282 0.015\\ 0.33282 0\\}
\vio{2}{y w\\ 0.18378 0\\ 0.18378 0.061\\ 0.19189 0.089\\ 0.20347 0.133\\ 0.21892 0.187\\ 0.23436 0.217\\ 0.24981 0.217\\ 0.26525 0.176\\ 0.27683 0.115\\ 0.28842 0.072\\ 0.30386 0.058\\ 0.31931 0.041\\ 0.31931 0\\}
\vio{3}{y w\\ 0.16525 0\\ 0.16525 0.02\\ 0.17645 0.04\\ 0.18803 0.07\\ 0.19961 0.107\\ 0.21120 0.162\\ 0.22278 0.227\\ 0.23436 0.25\\ 0.24595 0.227\\ 0.26139 0.153\\ 0.27683 0.092\\ 0.29228 0.061\\ 0.30521 0.043\\ 0.30521 0\\}
\bx{1}{0.1835}{0.2199}{0.2398}{0.2598}{0.3130}
\bx{2}{0.1840}{0.2199}{0.2427}{0.2629}{0.3190}
\bx{3}{0.1655}{0.2131}{0.2334}{0.2465}{0.2965}
\end{axis}

%% ---------- B: Cue/transition
\begin{axis}[panel, rowB, at={(721.85pt,-259.5pt)}, title={Cue/transition},
  ymin=0.3982, ymax=0.9747, ytick={0.4,0.5,0.6,0.7,0.8,0.9},
  minor ytick={0.45,0.55,0.65,0.75,0.85,0.95},
  yticklabel style={/pgf/number format/precision=1},
  ylabel style={at={(axis description cs:-0.1347,0.5)}}]
\pts{1}{hcc}{d v\\ 0.02 0.948\\ -0.04 0.940\\ 0.04 0.920\\ -0.05 0.855\\ -0.08 0.820\\ -0.05 0.780\\ 0.03 0.760\\ -0.07 0.725\\ 0.08 0.710\\ -0.03 0.695\\ 0.04 0.680\\ -0.09 0.665\\ 0.01 0.655\\ 0.07 0.645\\ -0.06 0.630\\ 0.02 0.615\\ -0.01 0.600\\ 0.09 0.590\\ -0.04 0.580\\ 0.05 0.572\\ -0.08 0.566\\ 0.03 0.555\\ -0.02 0.540\\ 0.06 0.525\\ -0.05 0.510\\ 0.04 0.495\\ -0.06 0.480\\ 0.06 0.462\\}
\pts{1}{hcc}{d v\\ 0.05 0.800\\ -0.06 0.770\\ 0.02 0.740\\ -0.03 0.720\\ 0.08 0.700\\ -0.08 0.680\\ 0.00 0.660\\ 0.04 0.645\\ -0.05 0.630\\ 0.07 0.615\\ -0.02 0.600\\ 0.03 0.585\\ -0.07 0.565\\ 0.06 0.545\\ -0.04 0.520\\ 0.01 0.500\\}
\pts{2}{sczc}{d v\\ 0.06 0.877\\ -0.01 0.825\\ 0.07 0.800\\ -0.01 0.785\\ 0.09 0.770\\ -0.07 0.760\\ 0.02 0.745\\ -0.04 0.720\\ 0.05 0.700\\ -0.09 0.685\\ 0.00 0.670\\ 0.06 0.655\\ -0.03 0.645\\ 0.08 0.635\\ -0.06 0.625\\ 0.04 0.615\\ -0.02 0.605\\ 0.01 0.595\\ -0.08 0.585\\ 0.07 0.578\\ -0.04 0.573\\ 0.02 0.565\\ -0.06 0.555\\ 0.05 0.545\\ -0.03 0.535\\ 0.08 0.520\\ -0.07 0.490\\ 0.00 0.478\\}
\pts{2}{sczc}{d v\\ -0.03 0.810\\ 0.07 0.780\\ -0.08 0.750\\ 0.01 0.720\\ 0.05 0.695\\ -0.05 0.675\\ 0.09 0.655\\ -0.01 0.640\\ 0.03 0.625\\ -0.07 0.610\\ 0.06 0.595\\ -0.04 0.580\\ 0.02 0.565\\ -0.09 0.550\\ 0.04 0.540\\ 0.00 0.520\\}
\pts{3}{bdc}{d v\\ -0.05 0.924\\ 0.03 0.845\\ -0.07 0.800\\ 0.02 0.790\\ -0.01 0.765\\ 0.08 0.750\\ -0.05 0.720\\ 0.04 0.680\\ -0.09 0.670\\ 0.01 0.655\\ 0.07 0.645\\ -0.03 0.635\\ 0.05 0.625\\ -0.06 0.615\\ 0.09 0.605\\ -0.02 0.595\\ 0.03 0.585\\ -0.08 0.575\\ 0.06 0.565\\ -0.04 0.555\\ 0.00 0.548\\ 0.07 0.540\\ -0.05 0.530\\ 0.02 0.515\\ -0.07 0.500\\ 0.04 0.480\\ 0.01 0.450\\ 0.00 0.428\\}
\pts{3}{bdc}{d v\\ 0.02 0.780\\ -0.04 0.750\\ 0.06 0.720\\ -0.09 0.700\\ 0.03 0.680\\ 0.08 0.660\\ -0.02 0.645\\ 0.05 0.630\\ -0.06 0.615\\ 0.00 0.600\\ 0.07 0.585\\ -0.03 0.570\\ 0.04 0.555\\ -0.07 0.540\\ 0.01 0.520\\ -0.05 0.490\\}
\vio{1}{y w\\ 0.4614 0\\ 0.4614 0.057\\ 0.4855 0.081\\ 0.5217 0.13\\ 0.5699 0.176\\ 0.6301 0.202\\ 0.6904 0.188\\ 0.7386 0.161\\ 0.7747 0.123\\ 0.8108 0.072\\ 0.8590 0.038\\ 0.9012 0.023\\ 0.9494 0.023\\ 0.9494 0\\}
\vio{2}{y w\\ 0.4783 0\\ 0.4783 0.046\\ 0.4855 0.046\\ 0.5096 0.08\\ 0.5398 0.161\\ 0.5699 0.23\\ 0.6060 0.251\\ 0.6542 0.242\\ 0.7024 0.217\\ 0.7506 0.164\\ 0.7928 0.103\\ 0.8349 0.054\\ 0.8759 0.031\\ 0.8759 0\\}
\vio{3}{y w\\ 0.4265 0\\ 0.4265 0.037\\ 0.4434 0.037\\ 0.4735 0.077\\ 0.5096 0.138\\ 0.5458 0.191\\ 0.5940 0.225\\ 0.6301 0.222\\ 0.6783 0.204\\ 0.7265 0.168\\ 0.7747 0.116\\ 0.8229 0.067\\ 0.8711 0.031\\ 0.9241 0.015\\ 0.9241 0\\}
\bx{1}{0.462}{0.563}{0.639}{0.731}{0.948}
\bx{2}{0.478}{0.571}{0.630}{0.725}{0.877}
\bx{3}{0.428}{0.544}{0.611}{0.6855}{0.845}
\end{axis}
\end{tikzpicture}
\end{document}
